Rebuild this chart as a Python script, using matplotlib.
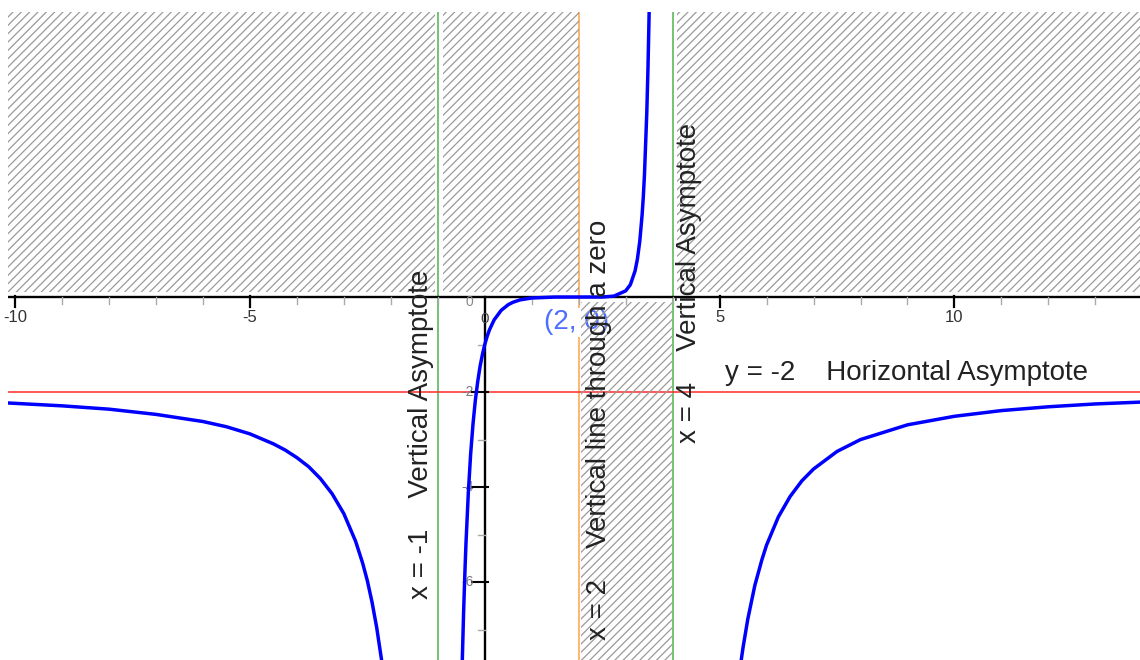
import matplotlib
matplotlib.use('Agg')
import matplotlib.pyplot as plt

plt.rcParams['font.family'] = ['Liberation Sans', 'DejaVu Sans']
plt.rcParams['hatch.linewidth'] = 0.9

# curve values, one list pair per branch
left_x = [-10.15, -9, -8, -7, -6, -5.5, -5, -4.5, -4.25, -4, -3.75, -3.5, -3.25, -3,
          -2.75, -2.6, -2.5, -2.4, -2.3, -2.2, -2.15]
left_y = [-2.23, -2.29, -2.36, -2.47, -2.62, -2.73, -2.88, -3.09, -3.22, -3.38, -3.57,
          -3.82, -4.14, -4.56, -5.14, -5.60, -5.97, -6.42, -6.96, -7.62, -8.0]

mid_x = [-0.48, -0.45, -0.42, -0.4, -0.35, -0.3, -0.25, -0.2, -0.15, -0.1, -0.05, 0,
         0.05, 0.1, 0.2, 0.35, 0.5, 0.6, 0.75, 1, 1.5, 2, 2.5, 2.75, 3, 3.1, 3.2,
         3.25, 3.3, 3.35, 3.375, 3.4, 3.45, 3.475, 3.5, 3.52]
mid_y = [-7.72, -6.62, -5.72, -5.19, -4.12, -3.30, -2.67, -2.17, -1.78, -1.46, -1.21,
         -1.0, -0.83, -0.69, -0.48, -0.28, -0.16, -0.11, -0.06, -0.02, 0.0, 0.0, 0.0,
         0.02, 0.13, 0.26, 0.55, 0.80, 1.17, 1.73, 2.10, 2.57, 3.89, 4.82, 6.0, 7.18]

right_x = [5.4, 5.45, 5.5, 5.6, 5.75, 5.9, 6, 6.25, 6.5, 6.75, 7, 7.5, 8, 9, 10, 11,
           12, 13, 14]
right_y = [-8.09, -7.71, -7.37, -6.78, -6.07, -5.53, -5.22, -4.63, -4.20, -3.87, -3.62,
           -3.25, -3.0, -2.69, -2.51, -2.39, -2.31, -2.25, -2.21]

vert_asym = [-1, 4]
zero_x = 2
horiz_asym = -2

# shaded (excluded) areas, x ranges above and below the x axis
shade_top = [(-10.15, -1.06), (-0.88, 2.0), (4.1, 13.95)]
shade_bottom = [(2.04, 3.98)]

xmin, xmax = -10.15, 13.95
ymin, ymax = -7.64, 6.0

fig = plt.figure(figsize=(11.4, 6.6), dpi=100)
ax = fig.add_axes([8 / 1140, 0, 1132 / 1140, 648 / 660])
ax.set_xlim(xmin, xmax)
ax.set_ylim(ymin, ymax)
ax.axis('off')

for a, b in shade_top:
    ax.fill_between([a, b], [0.1, 0.1], [ymax, ymax], facecolor='none',
                    edgecolor='#9a9a9a', hatch='////', linewidth=0, zorder=4)
for a, b in shade_bottom:
    ax.fill_between([a, b], [ymin, ymin], [-0.1, -0.1], facecolor='none',
                    edgecolor='#9a9a9a', hatch='////', linewidth=0, zorder=4)

# asymptotes and the line through the zero
for v in vert_asym:
    ax.axvline(v, color='#5cb85c', lw=1.2, zorder=2)
ax.axvline(zero_x, color='#ffaa55', lw=1.2, zorder=2)
ax.axhline(horiz_asym, color='#ff2a2a', lw=1.1, zorder=2)

# axes
ax.axhline(0, color='black', lw=1.7, zorder=4.5)
ax.plot([0, 0], [ymin, 0], color='black', lw=1.7, zorder=4.5)

for t in range(-10, 14):
    if t == 0:
        continue
    if t % 5 == 0:
        ax.plot([t, t], [-0.22, 0.02], color='black', lw=1.6, zorder=4.5)
        ax.text(t, -0.44, str(t), ha='center', va='center', fontsize=12,
                color='#333333', zorder=4.5)
    else:
        ax.plot([t, t], [-0.14, 0], color='#aaaaaa', lw=1.0, zorder=4.5)
ax.text(0, -0.46, '0', ha='center', va='center', fontsize=11, color='#444444', zorder=4.5)

for t in range(-7, 0):
    if t % 2 == 0:
        ax.plot([-0.27, 0.06], [t, t], color='black', lw=1.5, zorder=4.5)
        ax.text(-0.24, t, str(t), ha='right', va='center', fontsize=10,
                color='#777777', zorder=4.5)
    else:
        ax.plot([-0.15, 0], [t, t], color='#aaaaaa', lw=1.0, zorder=4.5)
ax.text(-0.24, -0.1, '0', ha='right', va='center', fontsize=10, color='#888888', zorder=4.5)

# the function
for xs, ys in [(left_x, left_y), (mid_x, mid_y), (right_x, right_y)]:
    ax.plot(xs, ys, color='#0000ff', lw=2.5, zorder=5, solid_capstyle='round')

# labels
ax.text(1.26, -0.53, '(2, 0)', ha='left', va='center', fontsize=20, color='#4d6eff',
        zorder=3, bbox=dict(facecolor='white', edgecolor='none', pad=1))
big = dict(fontsize=20, color='#222222', zorder=6, ha='center', va='center')
ax.text(-1.36, -2.88, 'x = -1    Vertical Asymptote', rotation=90, **big)
ax.text(2.43, -2.8, 'x = 2    Vertical line through a zero', rotation=90, **big)
ax.text(4.34, 0.3, 'x = 4    Vertical Asymptote', rotation=90, **big)
ax.text(5.11, -1.6, 'y = -2    Horizontal Asymptote', fontsize=20, color='#222222',
        zorder=6, ha='left', va='center')

fig.savefig('out.png', dpi=100, facecolor='white')
